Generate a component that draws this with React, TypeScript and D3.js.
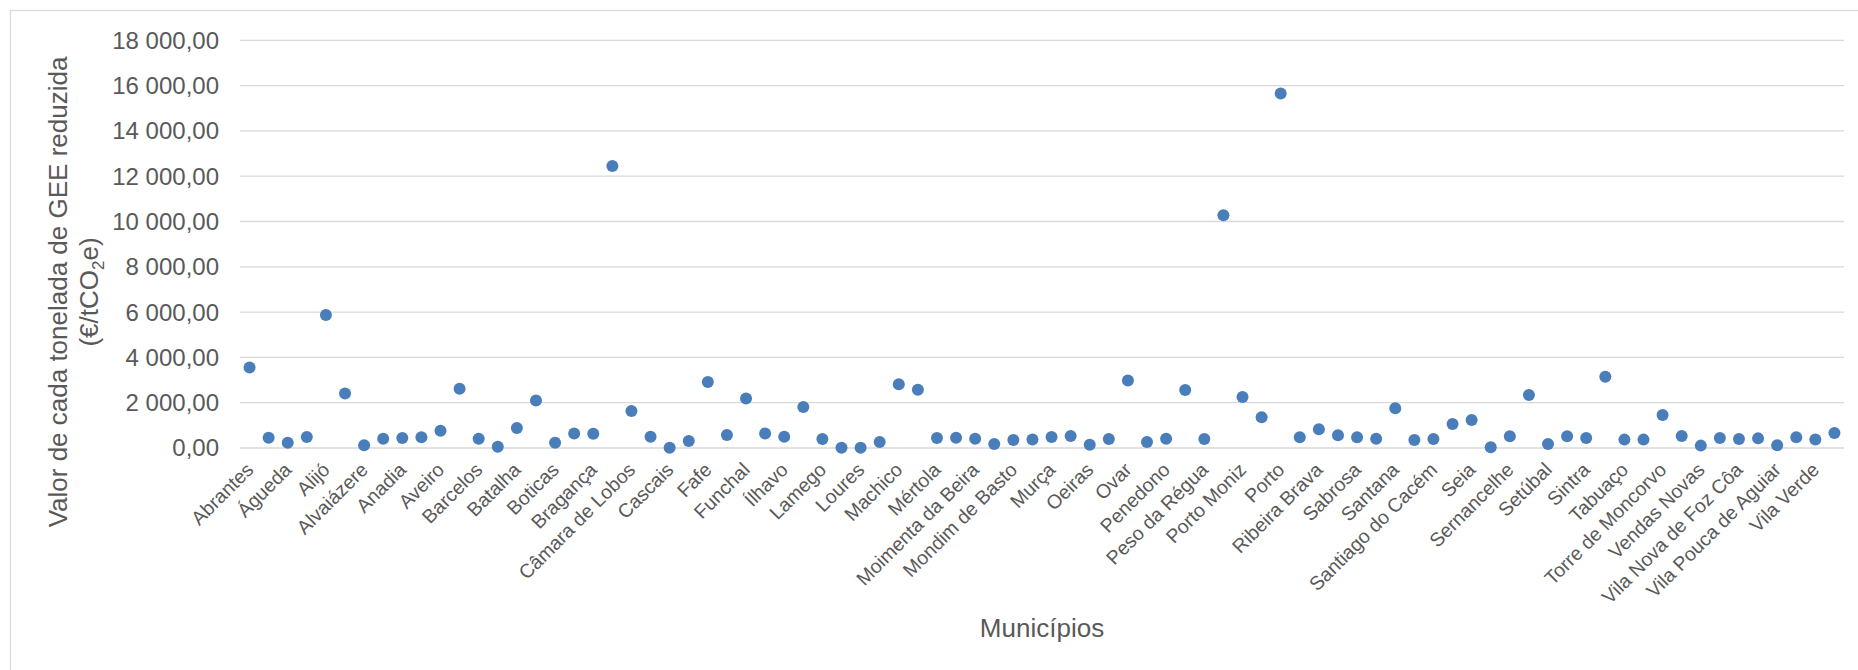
import React from 'react';
import * as d3 from 'd3';

// Category labels (Excel shows every second category label)
const shownLabels: string[] = [
  'Abrantes', 'Águeda', 'Alijó', 'Alvaiázere', 'Anadia', 'Aveiro', 'Barcelos', 'Batalha',
  'Boticas', 'Bragança', 'Câmara de Lobos', 'Cascais', 'Fafe', 'Funchal', 'Ílhavo', 'Lamego',
  'Loures', 'Machico', 'Mértola', 'Moimenta da Beira', 'Mondim de Basto', 'Murça', 'Oeiras',
  'Ovar', 'Penedono', 'Peso da Régua', 'Porto Moniz', 'Porto', 'Ribeira Brava', 'Sabrosa',
  'Santana', 'Santiago do Cacém', 'Seia', 'Sernancelhe', 'Setúbal', 'Sintra', 'Tabuaço',
  'Torre de Moncorvo', 'Vendas Novas', 'Vila Nova de Foz Côa', 'Vila Pouca de Aguiar', 'Vila Verde',
];

// Value per tonne of GHG reduced (€/tCO2e), one per municipality (84)
const values: number[] = [
  3550, 455, 235, 485, 5870, 2410, 120, 410, 440, 470,
  765, 2620, 410, 60, 880, 2100, 235, 645, 630, 12455,
  1630, 500, 15, 310, 2910, 575, 2190, 645, 500, 1810,
  400, 15, 15, 265, 2810, 2575, 440, 455, 410, 175,
  355, 380, 485, 530, 145, 400, 2985, 265, 410, 2560,
  400, 10280, 2250, 1355, 15650, 470, 825, 560, 470, 410,
  1750, 355, 400, 1060, 1235, 30, 515, 2340, 175, 515,
  440, 3145, 370, 370, 1455, 530, 105, 440, 400, 425,
  120, 470, 380, 660,
];

const yTicks: number[] = [0, 2000, 4000, 6000, 8000, 10000, 12000, 14000, 16000, 18000];

const locale = d3.formatLocale({ decimal: ',', thousands: '\u00a0', grouping: [3], currency: ['', ''] });
const fmt = locale.format(',.2f');

const FONT = '"Liberation Sans", Arial, Helvetica, sans-serif';
const TXT = '#595959';

export default function App() {
  const W = 1858;
  const H = 670;
  const left = 240;
  const right = 1844;
  const top = 40.3;
  const bottom = 448;

  const idx = d3.range(values.length);
  const x = d3.scaleBand<number>().domain(idx).range([left, right]);
  const y = d3.scaleLinear().domain([0, 18000]).range([bottom, top]);
  const cx = (i: number) => (x(i) as number) + x.bandwidth() / 2;

  return (
    <svg width={W} height={H} style={{ position: 'absolute', left: 0, top: 0, background: '#fff' }}
      fontFamily={FONT}>
      <rect x={0} y={0} width={W} height={H} fill="#fff" />
      <rect x={10.5} y={10.5} width={W + 20} height={H + 20} fill="none" stroke="#d9d9d9" strokeWidth={1.3} />
      {yTicks.map((t) => (
        <g key={t}>
          <line x1={left} x2={right} y1={y(t)} y2={y(t)} stroke="#d9d9d9" strokeWidth={1.3} />
          <text x={219} y={y(t)} dy="0.35em" textAnchor="end" fontSize={24} fill={TXT}>
            {fmt(t)}
          </text>
        </g>
      ))}
      {shownLabels.map((lab, k) => {
        const i = k * 2;
        const px = cx(i) + 5;
        const py = 471;
        return (
          <text key={lab} transform={`translate(${px},${py}) rotate(-45)`} textAnchor="end"
            fontSize={19.5} fill={TXT}>
            {lab}
          </text>
        );
      })}
      {values.map((v, i) => (
        <circle key={i} cx={cx(i)} cy={y(v)} r={6} fill="#4A7EBB" />
      ))}
      <text x={(left + right) / 2} y={637} textAnchor="middle" fontSize={26} fill={TXT}>
        Municípios
      </text>
      <g transform={`translate(66.5,292) rotate(-90)`}>
        <text x={0} y={0} textAnchor="middle" fontSize={26} fill={TXT}>
          Valor de cada tonelada de GEE reduzida
        </text>
        <text x={0} y={31} textAnchor="middle" fontSize={26} fill={TXT}>
          (€/tCO<tspan fontSize={17} dy={6}>2</tspan><tspan dy={-6}>e)</tspan>
        </text>
      </g>
    </svg>
  );
}
